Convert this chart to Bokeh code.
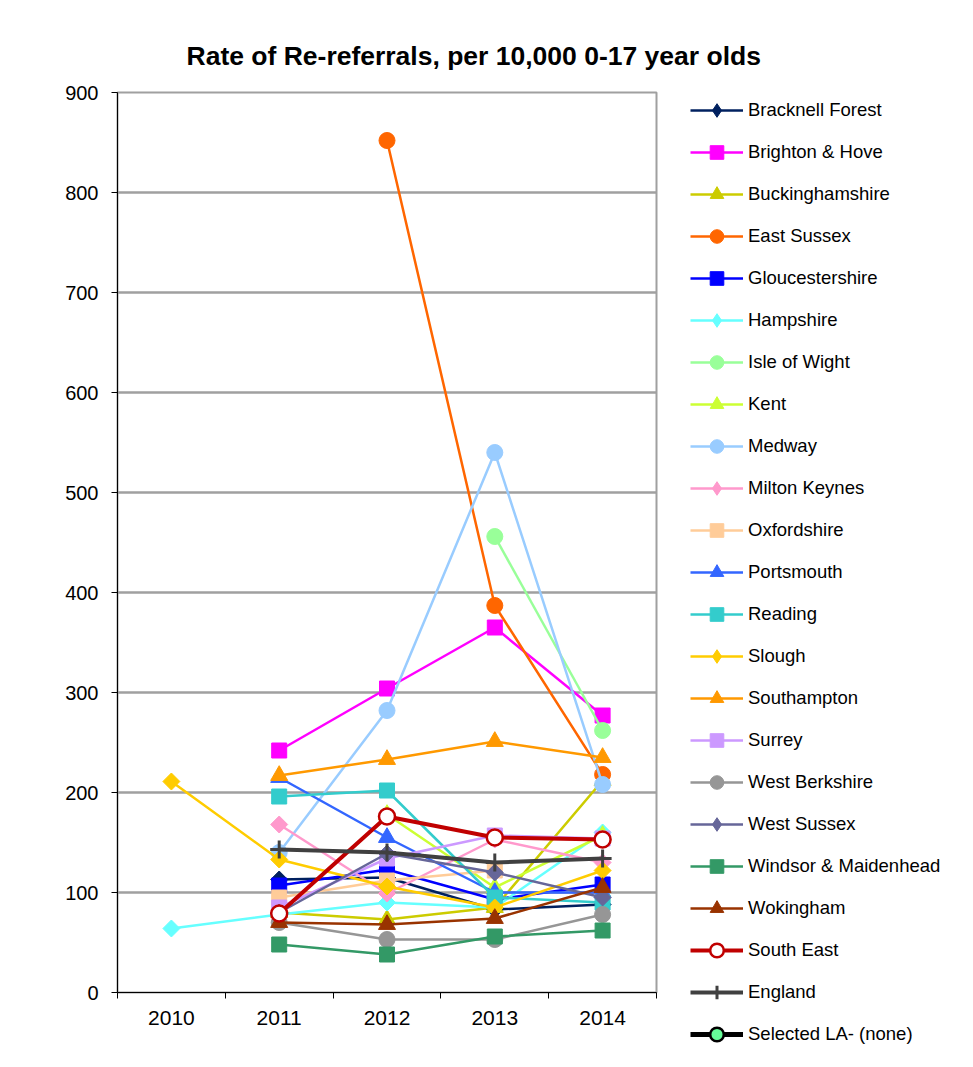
import math
from bokeh.plotting import figure
from bokeh.models import Legend, LegendItem, FixedTicker, Range1d
from bokeh.embed import file_html
from bokeh.resources import INLINE

years = [2010, 2011, 2012, 2013, 2014]

bracknell_forest = [None, 113, 115, 83, 88]
brighton_hove = [None, 242, 304, 365, 277]
buckinghamshire = [None, 80, 73, 85, 212]
east_sussex = [None, None, 852, 387, 218]
gloucestershire = [None, 107, 123, 93, 108]
hampshire = [64, 78, 90, 85, 160]
isle_of_wight = [None, None, None, 456, 262]
kent = [None, None, 178, 105, 157]
medway = [None, 140, 282, 540, 208]
milton_keynes = [None, 168, 99, 153, 130]
oxfordshire = [None, 95, 112, 122, None]
portsmouth = [None, 215, 155, 100, 100]
reading = [None, 196, 202, 95, 90]
slough = [211, 133, 106, 85, 122]
southampton = [None, 217, 233, 251, 235]
surrey = [None, 85, 134, 157, 154]
west_berkshire = [None, 70, 53, 53, 78]
west_sussex = [None, 80, 139, 120, 95]
windsor_maidenhead = [None, 48, 38, 56, 62]
wokingham = [None, 70, 68, 74, 105]
south_east = [None, 79, 176, 155, 153]
england = [None, 143, 140, 130, 134]
selected_la = [None, None, None, None, None]

y_ticks = [0, 100, 200, 300, 400, 500, 600, 700, 800, 900]

series = [
    ("Bracknell Forest", bracknell_forest, "#00205F", "diamond", 12, 2.5, "#00205F"),
    ("Brighton & Hove", brighton_hove, "#FF00FF", "square", 15, 2.5, "#FF00FF"),
    ("Buckinghamshire", buckinghamshire, "#CCCC00", "triangle", 17, 2.5, "#CCCC00"),
    ("East Sussex", east_sussex, "#FF6600", "circle", 16, 2.5, "#FF6600"),
    ("Gloucestershire", gloucestershire, "#0000FF", "square", 15, 2.5, "#0000FF"),
    ("Hampshire", hampshire, "#66FFFF", "diamond", 12, 2.5, "#66FFFF"),
    ("Isle of Wight", isle_of_wight, "#99FF99", "circle", 16, 2.5, "#99FF99"),
    ("Kent", kent, "#CCFF33", "triangle", 17, 2.5, "#CCFF33"),
    ("Medway", medway, "#99CCFF", "circle", 16, 2.5, "#99CCFF"),
    ("Milton Keynes", milton_keynes, "#FF99CC", "diamond", 12, 2.5, "#FF99CC"),
    ("Oxfordshire", oxfordshire, "#FFCC99", "square", 15, 2.5, "#FFCC99"),
    ("Portsmouth", portsmouth, "#3366FF", "triangle", 17, 2.5, "#3366FF"),
    ("Reading", reading, "#33CCCC", "square", 15, 2.5, "#33CCCC"),
    ("Slough", slough, "#FFCC00", "diamond", 12, 2.5, "#FFCC00"),
    ("Southampton", southampton, "#FF9900", "triangle", 17, 2.5, "#FF9900"),
    ("Surrey", surrey, "#CC99FF", "square", 15, 2.5, "#CC99FF"),
    ("West Berkshire", west_berkshire, "#969696", "circle", 16, 2.5, "#969696"),
    ("West Sussex", west_sussex, "#666699", "diamond", 12, 2.5, "#666699"),
    ("Windsor & Maidenhead", windsor_maidenhead, "#339966", "square", 15, 2.5, "#339966"),
    ("Wokingham", wokingham, "#993300", "triangle", 17, 2.5, "#993300"),
    ("South East", south_east, "#C00000", "circle", 16, 4, "white"),
    ("England", england, "#404040", "cross", 18, 4, "#404040"),
    ("Selected LA- (none)", selected_la, "#000000", "circle", 13, 5, "#66FF99"),
]

FONT = "Liberation Sans"

p = figure(frame_width=539, frame_height=900,
           min_border_left=117, min_border_right=309,
           min_border_top=92, min_border_bottom=70,
           x_range=Range1d(2009.5, 2014.5), y_range=Range1d(0, 900),
           output_backend="svg", toolbar_location=None,
           background_fill_color="white", border_fill_color="white")

p.title.text = "Rate of Re-referrals, per 10,000 0-17 year olds"
p.title.text_font = FONT
p.title.text_font_size = "26.5px"
p.title.text_font_style = "bold"
p.title.text_color = "black"
p.title.align = "left"
p.title.offset = 69
p.title.standoff = 44

p.xgrid.grid_line_color = None
p.ygrid.grid_line_color = "#A0A0A0"
p.ygrid.grid_line_width = 2.5
p.ygrid.ticker = FixedTicker(ticks=y_ticks)
p.outline_line_color = "#A0A0A0"
p.outline_line_width = 2

p.yaxis.ticker = FixedTicker(ticks=y_ticks)
p.yaxis.major_label_text_font = FONT
p.yaxis.major_label_text_font_size = "20px"
p.yaxis.major_label_text_color = "black"
p.yaxis.axis_line_color = "black"
p.yaxis.major_tick_line_color = "black"
p.yaxis.major_tick_in = 0
p.yaxis.major_tick_out = 6
p.yaxis.minor_tick_line_color = None
p.yaxis.major_label_standoff = 13

p.xaxis.ticker = FixedTicker(ticks=years, minor_ticks=[y - 0.5 for y in years] + [years[-1] + 0.5])
p.xaxis.major_label_text_font = FONT
p.xaxis.major_label_text_font_size = "21px"
p.xaxis.major_label_text_color = "black"
p.xaxis.axis_line_color = "black"
p.xaxis.major_tick_line_color = None
p.xaxis.minor_tick_line_color = "black"
p.xaxis.minor_tick_in = 0
p.xaxis.minor_tick_out = 6
p.xaxis.major_label_standoff = 12

items = []
for name, vals, color, marker, size, lw, fill in series:
    xs = years[:len(vals)]
    ys = [float("nan") if v is None else v for v in vals]
    r_line = p.line(xs, ys, line_color=color, line_width=lw)
    if marker == "cross":
        r_mark = p.scatter(xs, ys, marker="cross", size=size, line_color=color, line_width=3)
        legend_marks = [r_mark]
    elif marker == "diamond":
        r_mark = p.scatter(xs, ys, marker="square", angle=math.pi / 4, size=size,
                           fill_color=fill, line_color=color, line_width=1)
        # legend-only diamond glyph (no visible data)
        r_leg = p.scatter([years[0]], [float("nan")], marker="diamond", size=size,
                          fill_color=fill, line_color=color, line_width=1)
        legend_marks = [r_leg]
    else:
        is_sel = name.startswith("Selected")
        lc = "#000000" if is_sel else color
        r_mark = p.scatter(xs, ys, marker=marker, size=size, fill_color=fill,
                           line_color=lc, line_width=(2.5 if (fill == "white" or is_sel) else 1))
        legend_marks = [r_mark]
    items.append(LegendItem(label=name, renderers=[r_line] + legend_marks))

legend = Legend(items=items, location=(34, -59))
legend.label_text_font = FONT
legend.label_text_font_size = "18.5px"
legend.label_text_color = "black"
legend.glyph_width = 53
legend.glyph_height = 34
legend.label_height = 22
legend.spacing = 8
legend.label_standoff = 5
legend.padding = 0
legend.margin = 0
legend.border_line_color = None
legend.background_fill_alpha = 0
p.add_layout(legend, "right")

open("out.html", "w").write(file_html(p, INLINE))
